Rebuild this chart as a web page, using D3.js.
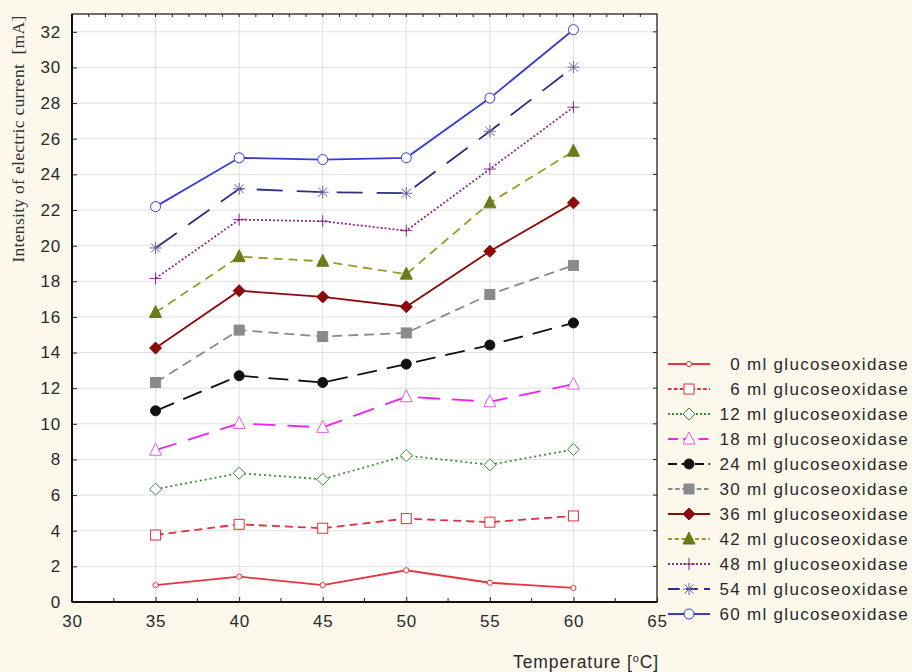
<!DOCTYPE html>
<html><head><meta charset="utf-8">
<script src="https://cdn.jsdelivr.net/npm/d3@7"></script>
<style>
html,body{margin:0;padding:0;background:#fcf8ec;}
svg{display:block;}
</style></head>
<body>
<svg id="chart" width="912" height="672"></svg>
<script>
const temperatures = [35, 40, 45, 50, 55, 60];
const seriesNames = ["0 ml glucoseoxidase","6 ml glucoseoxidase","12 ml glucoseoxidase","18 ml glucoseoxidase","24 ml glucoseoxidase","30 ml glucoseoxidase","36 ml glucoseoxidase","42 ml glucoseoxidase","48 ml glucoseoxidase","54 ml glucoseoxidase","60 ml glucoseoxidase"];
const s0  = [0.95, 1.42, 0.95, 1.78, 1.08, 0.79];
const s6  = [3.76, 4.36, 4.14, 4.68, 4.48, 4.83];
const s12 = [6.33, 7.23, 6.89, 8.22, 7.70, 8.56];
const s18 = [8.52, 10.02, 9.80, 11.52, 11.24, 12.23];
const s24 = [10.73, 12.70, 12.32, 13.35, 14.42, 15.66];
const s30 = [12.32, 15.26, 14.90, 15.10, 17.26, 18.89];
const s36 = [14.25, 17.47, 17.12, 16.57, 19.68, 22.40];
const s42 = [16.25, 19.38, 19.12, 18.40, 22.40, 25.30];
const s48 = [18.16, 21.46, 21.37, 20.84, 24.30, 27.77];
const s54 = [19.87, 23.19, 23.00, 22.94, 26.42, 30.02];
const s60 = [22.19, 24.93, 24.83, 24.93, 28.28, 32.12];
const seriesValues = [s0, s6, s12, s18, s24, s30, s36, s42, s48, s54, s60];
const xTicks = [30, 35, 40, 45, 50, 55, 60, 65];
const yTicks = [0, 2, 4, 6, 8, 10, 12, 14, 16, 18, 20, 22, 24, 26, 28, 30, 32];

const styles = [
  {color:"#e8343c", dash:null, sym:"circle", size:2.6, fill:false},
  {color:"#e0303c", dash:"8,5", sym:"square", size:5, fill:false},
  {color:"#3d8a3d", dash:"2,3", sym:"diamond", size:6, fill:false},
  {color:"#ee22ee", dash:"22,12", sym:"triangle", size:6, fill:false, markColor:"#e060e0"},
  {color:"#111111", dash:"20,10", sym:"circle", size:5, fill:true},
  {color:"#8a8a8a", dash:"10,6", sym:"square", size:5, fill:true},
  {color:"#8b0a0a", dash:null, sym:"diamond", size:6, fill:true},
  {color:"#9a9a28", dash:"9,6", sym:"triangle", size:6, fill:true, markColor:"#6b7a1a"},
  {color:"#8a2a8a", dash:"2,2", sym:"plus", size:6, fill:false},
  {color:"#2e2e7e", dash:"26,14", sym:"star", size:6, fill:false, markColor:"#6060a8"},
  {color:"#3a3ad8", dash:null, sym:"circle", size:5, fill:false}
];

(function(){
const svg = d3.select("#chart");
const W = 912, H = 672;
const pL = 72, pR = 657, pT = 14, pB = 602;
const x = d3.scaleLinear().domain([30, 65]).range([pL, pR]);
const y = d3.scaleLinear().domain([0, 33]).range([pB, pT]);

svg.append("rect").attr("width", W).attr("height", H).attr("fill", "#fcf8ec");
svg.append("rect").attr("x", pL).attr("y", pT).attr("width", pR-pL).attr("height", pB-pT).attr("fill", "#ffffff");

const g = svg.append("g");
g.selectAll(".vg").data(temperatures).enter().append("line")
  .attr("x1", d=>x(d)).attr("x2", d=>x(d)).attr("y1", pT).attr("y2", pB)
  .attr("stroke", "#e0e0e0").attr("stroke-width", 1);
g.selectAll(".hg").data(yTicks.filter(d=>d>0)).enter().append("line")
  .attr("x1", pL).attr("x2", pR).attr("y1", d=>y(d)).attr("y2", d=>y(d))
  .attr("stroke", "#e0e0e0").attr("stroke-width", 1);

const font = "'Liberation Sans', Arial, sans-serif";
const xAxis = d3.axisBottom(x).tickValues(xTicks).tickSize(-5).tickPadding(13);
const gx = svg.append("g").attr("transform", `translate(0,${pB})`).call(xAxis);
gx.select(".domain").remove();
gx.selectAll("text").attr("font-family", font).attr("font-size", 17).attr("letter-spacing", 0.8).attr("fill", "#2a2a2a");
gx.selectAll("line").attr("stroke", "#222");
svg.append("g").selectAll("line").data(d3.range(32.5, 65, 5)).enter().append("line")
  .attr("x1", d=>x(d)).attr("x2", d=>x(d)).attr("y1", pB).attr("y2", pB-4).attr("stroke", "#222");

const yAxis = d3.axisLeft(y).tickValues(yTicks).tickSize(-5).tickPadding(11);
const gy = svg.append("g").attr("transform", `translate(${pL},0)`).call(yAxis);
gy.select(".domain").remove();
gy.selectAll("text").attr("font-family", font).attr("font-size", 17).attr("letter-spacing", 0.8).attr("fill", "#2a2a2a");
gy.selectAll("line").attr("stroke", "#222");

svg.append("g").selectAll("line").data(yTicks).enter().append("line")
  .attr("x1", pR).attr("x2", pR-4).attr("y1", d=>y(d)).attr("y2", d=>y(d)).attr("stroke", "#222");
svg.append("g").selectAll("line").data(d3.range(31, 65, 1)).enter().append("line")
  .attr("x1", d=>x(d)).attr("x2", d=>x(d)).attr("y1", pT).attr("y2", pT+3).attr("stroke", "#222");

svg.append("rect").attr("x", pL).attr("y", pT).attr("width", pR-pL).attr("height", pB-pT)
  .attr("fill", "none").attr("stroke", "#222").attr("stroke-width", 1.3);
svg.append("line").attr("x1", pL).attr("x2", pR).attr("y1", pB).attr("y2", pB).attr("stroke", "#111").attr("stroke-width", 2);
svg.append("line").attr("x1", pL).attr("x2", pL).attr("y1", pT).attr("y2", pB).attr("stroke", "#111").attr("stroke-width", 2);

function drawMarker(sel, st, cx, cy) {
  const mc = st.markColor || st.color;
  const fill = st.fill ? mc : "#ffffff";
  const s = st.size;
  if (st.sym === "circle") {
    sel.append("circle").attr("cx", cx).attr("cy", cy).attr("r", s)
      .attr("fill", fill).attr("stroke", mc).attr("stroke-width", 1);
  } else if (st.sym === "square") {
    sel.append("rect").attr("x", cx-s).attr("y", cy-s).attr("width", 2*s).attr("height", 2*s)
      .attr("fill", fill).attr("stroke", mc).attr("stroke-width", 1);
  } else if (st.sym === "diamond") {
    sel.append("path").attr("d", `M${cx},${cy-s}L${cx+s},${cy}L${cx},${cy+s}L${cx-s},${cy}Z`)
      .attr("fill", fill).attr("stroke", mc).attr("stroke-width", 1);
  } else if (st.sym === "triangle") {
    sel.append("path").attr("d", `M${cx},${cy-s-1}L${cx+s},${cy+s-1}L${cx-s},${cy+s-1}Z`)
      .attr("fill", fill).attr("stroke", mc).attr("stroke-width", 1);
  } else if (st.sym === "plus") {
    sel.append("path").attr("d", `M${cx-s},${cy}H${cx+s}M${cx},${cy-s}V${cy+s}`)
      .attr("stroke", mc).attr("stroke-width", 1);
  } else if (st.sym === "star") {
    const d = s*0.75;
    sel.append("path").attr("d", `M${cx-s},${cy}H${cx+s}M${cx},${cy-s}V${cy+s}M${cx-d},${cy-d}L${cx+d},${cy+d}M${cx-d},${cy+d}L${cx+d},${cy-d}`)
      .attr("stroke", mc).attr("stroke-width", 1);
  }
}

const line = d3.line().x((d,i)=>x(temperatures[i])).y(d=>y(d));
const plot = svg.append("g");
seriesValues.forEach((vals, k) => {
  const st = styles[k];
  plot.append("path").datum(vals).attr("d", line)
    .attr("fill", "none").attr("stroke", st.color).attr("stroke-width", 1.8)
    .attr("stroke-dasharray", st.dash);
});
seriesValues.forEach((vals, k) => {
  const st = styles[k];
  const mg = plot.append("g");
  vals.forEach((v, i) => drawMarker(mg, st, x(temperatures[i]), y(v)));
});

svg.append("text").attr("transform", "translate(24,139) rotate(-90)")
  .attr("text-anchor", "middle").attr("font-family", "'Liberation Serif', 'Times New Roman', serif")
  .attr("font-size", 17.5).attr("letter-spacing", 0.3).attr("fill", "#333")
  .style("white-space", "pre").text("Intensity of electric current  [mA]");
const xt = svg.append("text").attr("x", 659).attr("y", 668).attr("text-anchor", "end")
  .attr("font-family", font).attr("font-size", 17.5).attr("letter-spacing", 0.9).attr("fill", "#2a2a2a");
xt.append("tspan").text("Temperature [");
xt.append("tspan").attr("dy", -6).attr("font-size", 11).text("o");
xt.append("tspan").attr("dy", 6).text("C]");

const lg = svg.append("g");
seriesNames.forEach((name, k) => {
  const st = styles[k];
  const ly = 364 + k * 25;
  const row = lg.append("g");
  row.append("line").attr("x1", 668).attr("x2", 710).attr("y1", ly).attr("y2", ly)
    .attr("stroke", st.color).attr("stroke-width", 1.8).attr("stroke-dasharray", st.dash ? st.dash.split(",").map(v=>Math.max(2, +v*0.45)).join(",") : null);
  drawMarker(row, st, 689, ly);
  row.append("text").attr("x", 909).attr("y", ly + 6).attr("text-anchor", "end")
    .attr("font-family", font).attr("font-size", 17).attr("letter-spacing", 1.3).attr("fill", "#2a2a2a").text(name);
});
})();
</script>
</body></html>
